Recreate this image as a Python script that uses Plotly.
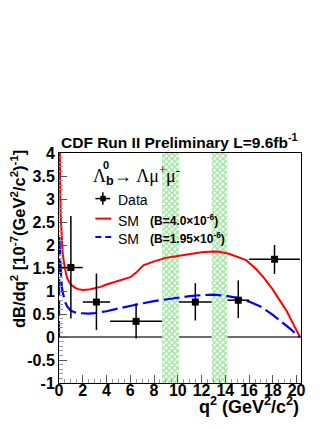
import plotly.graph_objects as go

data_q2 = [1.0, 3.15, 6.49, 11.475, 15.09, 18.14]
bin_lo = [0.0, 2.0, 4.3, 10.09, 14.18, 16.0]
bin_hi = [2.0, 4.3, 8.68, 12.86, 16.0, 20.28]
data_val = [1.51, 0.76, 0.34, 0.76, 0.80, 1.69]
err_up = [1.12, 0.62, 0.39, 0.41, 0.43, 0.31]
err_dn = [1.11, 0.61, 0.37, 0.40, 0.39, 0.32]

# SM prediction, B = 4.0e-6 (red)
red_q2 = [0.03, 0.05, 0.1, 0.15, 0.2, 0.3, 0.4, 0.5, 0.6, 0.7, 0.85, 1.0, 1.3,
          1.6, 2.0, 2.5, 3.0, 3.5, 4.0, 4.5, 5.0, 5.5, 6.0, 6.5, 6.85, 7.1,
          8.0, 8.6, 9.0, 10.0, 11.0, 12.0, 13.0, 13.5, 14.3, 15.0, 15.75,
          16.5, 17.2, 18.0, 18.6, 19.2, 19.7, 20.0, 20.28]
red_val = [5.5, 4.5, 3.2, 2.6, 2.25, 1.85, 1.65, 1.48, 1.36, 1.27, 1.2, 1.14,
           1.08, 1.04, 1.02, 1.03, 1.06, 1.09, 1.14, 1.18, 1.22, 1.26, 1.30,
           1.40, 1.49, 1.56, 1.645, 1.70, 1.72, 1.76, 1.80, 1.84, 1.86, 1.855,
           1.81, 1.75, 1.67, 1.50, 1.30, 1.03, 0.80, 0.55, 0.29, 0.14, 0.0]

# SM prediction, B = 1.95e-6 (blue dashed)
blue_q2 = [0.0, 0.02, 0.06, 0.1, 0.15, 0.2, 0.3, 0.4, 0.55, 0.7, 1.0, 1.5,
           2.0, 2.5, 3.0, 3.5, 4.0, 5.0, 6.0, 7.0, 8.0, 9.0, 10.0, 11.0, 12.0,
           13.0, 14.0, 15.0, 16.0, 17.0, 18.0, 18.6, 19.2, 19.6, 20.0, 20.28]
blue_val = [0.0, 2.2, 2.0, 1.7, 1.4, 1.2, 0.98, 0.86, 0.74, 0.66, 0.57, 0.52,
            0.51, 0.51, 0.52, 0.54, 0.56, 0.62, 0.68, 0.73, 0.78, 0.82, 0.86,
            0.89, 0.91, 0.92, 0.90, 0.85, 0.77, 0.66, 0.48, 0.36, 0.24, 0.15,
            0.05, 0.0]

# charmonium veto regions
veto_lo = [8.68, 12.86]
veto_hi = [10.09, 14.18]

x_ticks = [0, 2, 4, 6, 8, 10, 12, 14, 16, 18, 20]
x_labels = ["0", "2", "4", "6", "8", "10", "12", "14", "16", "18", "20"]
y_ticks = [-1, -0.5, 0, 0.5, 1, 1.5, 2, 2.5, 3, 3.5, 4]
y_labels = ["-1", "-0.5", "0", "0.5", "1", "1.5", "2", "2.5", "3", "3.5", "4"]

SANS = "Liberation Sans, Arial, sans-serif"
SERIF = "Liberation Serif, Times New Roman, serif"

fig = go.Figure()

# veto bands (green cross-hatch)
fig.add_trace(go.Bar(
    x=[(a + b) / 2 for a, b in zip(veto_lo, veto_hi)],
    y=[5, 5], base=[-1, -1],
    width=[b - a for a, b in zip(veto_lo, veto_hi)],
    marker=dict(color="white", line=dict(width=0),
                pattern=dict(shape="x", size=4, solidity=0.6,
                             fgcolor="#3cc83c", bgcolor="white")),
    showlegend=False, hoverinfo="skip",
))

fig.add_trace(go.Scatter(
    x=red_q2, y=red_val, mode="lines",
    line=dict(color="#ff0000", width=2),
    showlegend=False,
))
fig.add_trace(go.Scatter(
    x=blue_q2, y=blue_val, mode="lines",
    line=dict(color="#0000ff", width=2.2, dash="16px,5px"),
    showlegend=False,
))

fig.add_trace(go.Scatter(
    x=data_q2, y=data_val, mode="markers",
    marker=dict(symbol="square", size=7, color="black"),
    error_x=dict(type="data", symmetric=False,
                 array=[h - x for h, x in zip(bin_hi, data_q2)],
                 arrayminus=[x - l for l, x in zip(bin_lo, data_q2)],
                 color="black", thickness=1.5, width=0),
    error_y=dict(type="data", symmetric=False, array=err_up, arrayminus=err_dn,
                 color="black", thickness=1.5, width=0),
    showlegend=False,
))

# axes: ROOT style, ticks inside, frame all round
fig.update_xaxes(
    range=[0, 20.37], showgrid=False, zeroline=False, automargin=False,
    showline=True, linecolor="black", linewidth=1, mirror=True,
    tickmode="array", tickvals=x_ticks, ticktext=x_labels,
    ticks="inside", ticklen=8, tickcolor="#555", ticklabelstandoff=-7,
    minor=dict(tickmode="linear", tick0=0, dtick=0.5, ticks="inside",
               ticklen=4, tickcolor="#999"),
    tickfont=dict(family=SANS, size=16, color="black", weight=700),
)
fig.update_yaxes(
    range=[-1, 4], showgrid=False, automargin=False,
    zeroline=True, zerolinecolor="#6e6e6e", zerolinewidth=1.5,
    showline=True, linecolor="black", linewidth=1, mirror=True,
    tickmode="array", tickvals=y_ticks, ticktext=y_labels,
    ticks="inside", ticklen=8, tickcolor="#555",
    minor=dict(tickmode="linear", tick0=0, dtick=0.1, ticks="inside",
               ticklen=4, tickcolor="#999"),
    tickfont=dict(family=SANS, size=16, color="black", weight=700),
)


# helpers: window pixel -> paper fraction (plot area 58.5..301.5 x 152.7..382.7)
def px_x(p):
    return (p - 58.5) / 243.0


def px_y(p):
    return (382.7 - p) / 230.0


ann = []
ann.append(dict(x=0, y=1, xref="paper", yref="paper", xanchor="left", yanchor="bottom",
                text="CDF Run II Preliminary L=9.6fb<sup>-1</sup>", showarrow=False,
                font=dict(family=SANS, size=15.5, color="black", weight=700)))
ann.append(dict(x=px_x(18), y=px_y(148), xref="paper", yref="paper",
                xanchor="center", yanchor="top", textangle=-90,
                text="dB/dq<sup>2</sup> [10<sup>-7</sup>(GeV<sup>2</sup>/c<sup>2</sup>)<sup>-1</sup>]",
                showarrow=False, font=dict(family=SANS, size=16.5, color="black", weight=700)))
ann.append(dict(x=px_x(301), y=px_y(405.5), xref="paper", yref="paper",
                xanchor="right", yanchor="middle",
                text="q<sup>2</sup> (GeV<sup>2</sup>/c<sup>2</sup>)",
                showarrow=False, font=dict(family=SANS, size=18, color="black", weight=700)))
# legend block
ann.append(dict(x=px_x(91), y=px_y(175), xref="paper", yref="paper",
                xanchor="left", yanchor="middle",
                text="Λ<sub><span style='font-family:Liberation Sans;font-weight:bold'>b</span></sub>→ Λμ<sup>+</sup>μ<sup>-</sup>",
                showarrow=False, font=dict(family=SERIF, size=18, color="black")))
ann.append(dict(x=px_x(106), y=px_y(165), xref="paper", yref="paper",
                xanchor="center", yanchor="middle", text="0",
                showarrow=False, font=dict(family=SANS, size=11, color="black", weight=700)))
for txt, yy in [("Data", 199.5), ("SM", 220.5), ("SM", 239)]:
    ann.append(dict(x=px_x(116), y=px_y(yy), xref="paper", yref="paper",
                    xanchor="left", yanchor="middle", text=txt, showarrow=False,
                    font=dict(family=SANS, size=14, color="black")))
for txt, yy in [("(B=4.0×10<sup>-6</sup>)", 219.5), ("(B=1.95×10<sup>-6</sup>)", 238)]:
    ann.append(dict(x=px_x(148), y=px_y(yy), xref="paper", yref="paper",
                    xanchor="left", yanchor="middle", text=txt, showarrow=False,
                    font=dict(family=SANS, size=12, color="black", weight=700)))

shp = []
shp.append(dict(type="line", xref="paper", yref="paper", x0=px_x(95), x1=px_x(110),
                y0=px_y(198.3), y1=px_y(198.3), line=dict(color="black", width=1.5)))
shp.append(dict(type="line", xref="paper", yref="paper", x0=px_x(102.5), x1=px_x(102.5),
                y0=px_y(192), y1=px_y(204.5), line=dict(color="black", width=1.5)))
shp.append(dict(type="rect", xref="paper", yref="paper", x0=px_x(100), x1=px_x(105.5),
                y0=px_y(201), y1=px_y(195.5), fillcolor="black", line=dict(width=0)))
shp.append(dict(type="line", xref="paper", yref="paper", x0=px_x(95), x1=px_x(111),
                y0=px_y(218.3), y1=px_y(218.3), line=dict(color="#ff0000", width=2)))
shp.append(dict(type="line", xref="paper", yref="paper", x0=px_x(95), x1=px_x(111),
                y0=px_y(236.7), y1=px_y(236.7),
                line=dict(color="#0000ff", width=2, dash="6px,4px")))

# page body has an 8px margin, so the figure is shrunk and margins shifted by 8
fig.update_layout(
    width=316, height=414,
    margin=dict(l=50.5, r=22.5, t=144.7, b=39.3),
    plot_bgcolor="white", paper_bgcolor="white",
    showlegend=False, barmode="overlay",
    annotations=ann, shapes=shp,
)

fig.write_html("out.html")
